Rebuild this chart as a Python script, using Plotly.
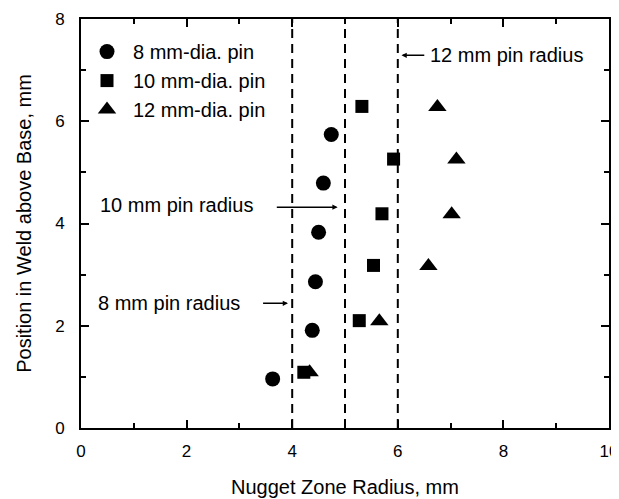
import plotly.graph_objects as go

# Data
pin8_x = [3.63, 4.38, 4.44, 4.50, 4.59, 4.74]
pin8_y = [0.96, 1.91, 2.86, 3.83, 4.79, 5.74]
pin10_x = [4.22, 5.27, 5.54, 5.70, 5.92, 5.32]
pin10_y = [1.09, 2.10, 3.18, 4.19, 5.26, 6.29]
pin12_x = [4.33, 5.65, 6.58, 7.02, 7.11, 6.75]
pin12_y = [1.09, 2.09, 3.17, 4.18, 5.25, 6.28]
series_names = ["8 mm-dia. pin", "10 mm-dia. pin", "12 mm-dia. pin"]

pin_radii = [4, 5, 6]
radius_labels = ["8 mm pin radius", "10 mm pin radius", "12 mm pin radius"]

FONT = "Liberation Sans, Arial, Helvetica, sans-serif"

fig = go.Figure()
fig.add_trace(go.Scatter(x=pin8_x, y=pin8_y, mode="markers", name=series_names[0],
                         marker=dict(symbol="circle", size=15, color="black")))
fig.add_trace(go.Scatter(x=pin10_x, y=pin10_y, mode="markers", name=series_names[1],
                         marker=dict(symbol="square", size=13, color="black")))
fig.add_trace(go.Scatter(x=pin12_x, y=pin12_y, mode="markers", name=series_names[2],
                         marker=dict(symbol="triangle-up", size=16, color="black")))

for r in pin_radii:
    fig.add_shape(type="line", x0=r, x1=r, y0=0, y1=8, xref="x", yref="y",
                  line=dict(color="black", width=2, dash="9px,6px"), layer="below")

# text labels
fig.add_annotation(x=0.28, y=2.45, text=radius_labels[0], showarrow=False,
                   xanchor="left", yanchor="middle")
fig.add_annotation(x=0.32, y=4.36, text=radius_labels[1], showarrow=False,
                   xanchor="left", yanchor="middle")
fig.add_annotation(x=6.58, y=7.29, text=radius_labels[2], showarrow=False,
                   xanchor="left", yanchor="middle")
# arrows
arrows = [(3.42, 3.92, 2.44), (3.68, 4.86, 4.32), (6.53, 6.07, 7.29)]
for ax_, hx, yy in arrows:
    fig.add_annotation(x=hx, y=yy, ax=ax_, ay=yy, axref="x", ayref="y",
                       xref="x", yref="y", text="", showarrow=True,
                       arrowhead=2, arrowsize=0.7, arrowwidth=1.5, arrowcolor="black")

axis_common = dict(showline=True, linecolor="black", linewidth=2, mirror="allticks",
                   ticks="inside", ticklen=8, tickwidth=2, tickcolor="black",
                   showgrid=False, zeroline=False, automargin=False,
                   tickfont=dict(size=17, color="black", family=FONT),
                   minor=dict(ticks="inside", ticklen=5, tickwidth=2, tickcolor="black", dtick=1))

fig.update_xaxes(range=[0, 10], dtick=2, tick0=0,
                 title=dict(text="Nugget Zone Radius, mm", font=dict(size=20, color="black", family=FONT), standoff=20),
                 ticklabelstandoff=7, **axis_common)
fig.update_yaxes(range=[0, 8], dtick=2, tick0=0,
                 title=dict(text="Position in Weld above Base, mm", font=dict(size=20, color="black", family=FONT), standoff=18),
                 ticklabelstandoff=11, **axis_common)

# page body has an 8px margin, so the figure is sized to fill the rest of the window
fig.update_layout(
    width=611, height=491,
    margin=dict(l=73, r=10, t=11, b=71),
    paper_bgcolor="white", plot_bgcolor="white",
    font=dict(family=FONT, size=20, color="black"),
    showlegend=True,
    legend=dict(x=0.0, y=0.968, xanchor="left", yanchor="top",
                bgcolor="rgba(0,0,0,0)", font=dict(size=20, color="black", family=FONT),
                itemsizing="trace", tracegroupgap=0, itemwidth=42),
)

fig.write_html("out.html")
